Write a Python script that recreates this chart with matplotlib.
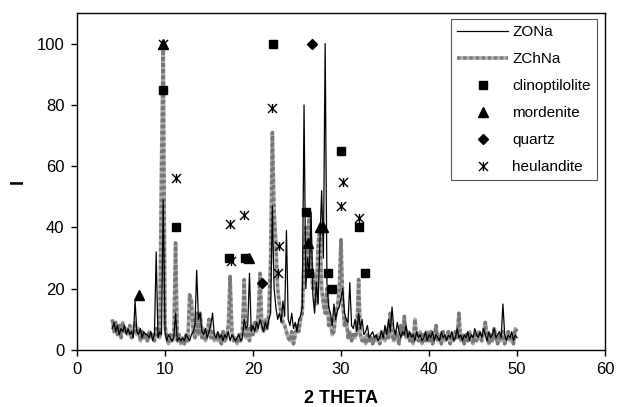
import numpy as np
import matplotlib
matplotlib.use("Agg")
import matplotlib.pyplot as plt
from matplotlib.path import Path

plt.rcParams['font.family'] = ['Liberation Sans', 'DejaVu Sans']

# 2-theta grid, 0.2 deg step from 4 to 50
two_theta = np.round(np.arange(4.0, 50.01, 0.2), 1)

# ZONa intensities
zona = [
    7, 9, 6, 8, 5, 7, 6, 8, 5, 7,          # 4.0 - 5.8
    5, 6, 4, 16, 6, 5, 7, 4, 6, 5,         # 6.0 - 7.8
    5, 4, 6, 3, 5, 32, 4, 6, 5, 49,        # 8.0 - 9.8
    6, 3, 5, 4, 3, 4, 12, 3, 4, 3,         # 10.0 - 11.8
    4, 3, 5, 4, 3, 5, 6, 8, 26, 10,        # 12.0 - 13.8
    12, 6, 5, 7, 4, 6, 8, 12, 5, 4,        # 14.0 - 15.8
    6, 4, 5, 3, 5, 4, 6, 3, 5, 4,         # 16.0 - 17.8
    3, 4, 5, 3, 4, 10, 7, 8, 25, 6,        # 18.0 - 19.8
    8, 6, 9, 7, 10, 8, 6, 9, 7, 10,        # 20.0 - 21.8
    12, 47, 20, 14, 10, 12, 9, 16, 11, 39,  # 22.0 - 23.8
    10, 8, 12, 7, 9, 6, 10, 11, 14, 80,    # 24.0 - 25.8
    20, 30, 25, 45, 18, 12, 22, 15, 35, 52,  # 26.0 - 27.8
    30, 100, 22, 14, 12, 8, 15, 10, 13, 14,  # 28.0 - 29.8
    17, 20, 12, 10, 9, 22, 8, 7, 10, 6,    # 30.0 - 31.8
    12, 7, 10, 5, 6, 8, 4, 5, 6, 4,        # 32.0 - 33.8
    5, 3, 4, 6, 4, 8, 5, 10, 6, 14,        # 34.0 - 35.8
    7, 5, 9, 6, 4, 6, 5, 8, 4, 6,         # 36.0 - 37.8
    4, 5, 3, 6, 4, 5, 3, 4, 6, 3,         # 38.0 - 39.8
    5, 4, 6, 3, 5, 4, 3, 6, 4, 5,         # 40.0 - 41.8
    3, 5, 4, 6, 3, 4, 7, 4, 5, 3,         # 42.0 - 43.8
    5, 4, 6, 3, 5, 4, 7, 5, 4, 6,         # 44.0 - 45.8
    4, 7, 5, 3, 6, 4, 5, 7, 4, 5,         # 46.0 - 47.8
    6, 4, 15, 5, 3, 5, 4, 6, 3, 5,        # 48.0 - 49.8
    4,                                     # 50.0
]

# ZChNa intensities
zchna = [
    10, 6, 9, 5, 8, 4, 9, 6, 7, 5,         # 4.0 - 5.8
    8, 4, 6, 9, 5, 7, 3, 6, 4, 5,          # 6.0 - 7.8
    3, 6, 4, 5, 3, 7, 5, 4, 60, 100,       # 8.0 - 9.8
    8, 4, 2, 5, 3, 4, 35, 3, 5, 2,         # 10.0 - 11.8
    4, 2, 5, 3, 18, 16, 6, 4, 12, 5,       # 12.0 - 13.8
    12, 4, 7, 3, 5, 10, 4, 6, 3, 5,        # 14.0 - 15.8
    3, 5, 2, 6, 3, 4, 8, 24, 6, 3,         # 16.0 - 17.8
    4, 2, 5, 3, 6, 23, 4, 7, 3, 8,         # 18.0 - 19.8
    5, 9, 6, 12, 25, 8, 6, 10, 7, 12,      # 20.0 - 21.8
    30, 71, 45, 35, 20, 15, 12, 9, 8, 6,   # 22.0 - 23.8
    4, 3, 6, 2, 5, 8, 6, 10, 12, 30,       # 24.0 - 25.8
    40, 28, 44, 30, 20, 25, 15, 35, 40, 20,  # 26.0 - 27.8
    15, 12, 20, 8, 10, 5, 6, 12, 14, 20,   # 28.0 - 29.8
    36, 15, 8, 10, 4, 6, 3, 5, 4, 6,       # 30.0 - 31.8
    23, 5, 3, 4, 2, 5, 3, 4, 2, 4,         # 32.0 - 33.8
    3, 5, 2, 6, 4, 3, 7, 4, 12, 5,         # 34.0 - 35.8
    3, 6, 4, 2, 8, 5, 11, 4, 6, 3,         # 36.0 - 37.8
    5, 2, 10, 4, 3, 6, 2, 5, 3, 6,         # 38.0 - 39.8
    3, 6, 2, 4, 8, 3, 5, 2, 6, 3,          # 40.0 - 41.8
    4, 6, 2, 5, 3, 6, 4, 12, 3, 5,         # 42.0 - 43.8
    2, 5, 3, 6, 4, 2, 5, 3, 6, 4,          # 44.0 - 45.8
    3, 6, 9, 4, 2, 5, 3, 7, 4, 2,          # 46.0 - 47.8
    5, 3, 6, 2, 4, 6, 3, 5, 2, 7,          # 48.0 - 49.8
    6,                                     # 50.0
]

# reference phase positions
clino_x = [9.8, 11.2, 17.3, 19.1, 22.3, 26.0, 26.4, 28.5, 29.0, 30.0, 32.0, 32.7]
clino_y = [85, 40, 30, 30, 100, 45, 25, 25, 20, 65, 40, 25]
morden_x = [7.0, 9.8, 19.6, 26.2, 27.6, 28.0]
morden_y = [18, 100, 30, 35, 40, 40]
quartz_x = [21.0, 26.7]
quartz_y = [22, 100]
heul_x = [9.8, 11.2, 17.4, 17.5, 19.0, 22.2, 22.8, 22.9, 30.0, 30.2, 32.0]
heul_y = [100, 56, 41, 29, 44, 79, 25, 34, 47, 55, 43]

# x with a vertical bar (spreadsheet "star" marker)
star = Path([(-1, -1), (1, 1), (-1, 1), (1, -1), (0, -1), (0, 1)],
            [Path.MOVETO, Path.LINETO, Path.MOVETO, Path.LINETO,
             Path.MOVETO, Path.LINETO])

fig = plt.figure(figsize=(6.21, 4.07), dpi=100)
ax = fig.add_axes([77/621, 1-350/407, 528/621, 337/407])

ax.plot(two_theta, zchna, color='#777777', lw=2.6, ls=(0, (1.0, 0.7)),
        gapcolor='#adadad', label='ZChNa', zorder=2)
ax.plot(two_theta, zona, color='black', lw=0.9, label='ZONa', zorder=3)

ax.plot(clino_x, clino_y, ls='none', marker='s', ms=6, color='black',
        label='clinoptilolite', zorder=4)
ax.plot(morden_x, morden_y, ls='none', marker='^', ms=7, color='black',
        label='mordenite', zorder=4)
ax.plot(quartz_x, quartz_y, ls='none', marker='D', ms=5, color='black',
        label='quartz', zorder=4)
ax.plot(heul_x, heul_y, ls='none', marker=star, ms=6.5, mew=1.0,
        color='black', mfc='none', label='heulandite', zorder=5)

ax.set_xlim(0, 60)
ax.set_ylim(0, 110)
ax.set_xticks(range(0, 61, 10))
ax.set_yticks(range(0, 101, 20))
ax.tick_params(direction='out', length=4, width=1, labelsize=12, pad=5)
for s in ax.spines.values():
    s.set_linewidth(1.0)

ax.set_xlabel('2 THETA', fontsize=13, fontweight='bold', labelpad=9)
ax.set_ylabel('I', fontsize=13, fontweight='bold', labelpad=7)

h, l = ax.get_legend_handles_labels()
order = [1, 0, 2, 3, 4, 5]
leg = ax.legend([h[i] for i in order], [l[i] for i in order],
                loc='upper right', bbox_to_anchor=(597/621, 1-19/407),
                bbox_transform=fig.transFigure, borderaxespad=0,
                fontsize=11, handlelength=3.3, handletextpad=0.3,
                labelspacing=0.85, borderpad=0.4, fancybox=False,
                framealpha=1, edgecolor='#555555')
leg.get_frame().set_linewidth(0.8)

fig.savefig('out.png', dpi=100)
